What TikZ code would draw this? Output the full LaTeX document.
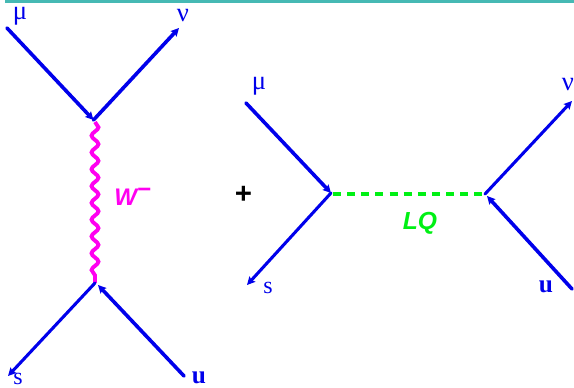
\documentclass[tikz,border=0pt]{standalone}
\usepackage{fontspec}
\setmainfont{Liberation Serif}
\setsansfont{Liberation Sans}
\usetikzlibrary{arrows.meta,decorations.pathmorphing,decorations.markings}
\definecolor{fermion}{RGB}{0,0,235}
\definecolor{wboson}{RGB}{255,0,240}
\definecolor{lq}{RGB}{0,240,20}
\definecolor{topbar}{RGB}{70,185,180}
\tikzset{
  x=0.75pt,y=-0.75pt,
  line/.style={draw=fermion,line width=2.7pt,line cap=round},
  thinline/.style={draw=fermion,line width=2.3pt,line cap=round},
  arr/.style={-{Stealth[length=6pt,width=6pt,inset=1pt,fill=fermion]}},
  lab/.style={text=fermion,inner sep=0pt,font=\fontsize{20}{20}\selectfont},
  slab/.style={text=fermion,inner sep=0pt,font=\fontsize{18}{18}\selectfont},
  blab/.style={text=fermion,inner sep=0pt,font=\fontsize{19}{19}\selectfont\bfseries},
  wavy/.style={draw=wboson,line width=2.9pt,decorate,decoration={snake,segment length=12.6pt,amplitude=2.6pt}},
  lqdash/.style={draw=lq,line width=2.3pt,dash pattern=on 6pt off 4.6pt}
}
\begin{document}
\begin{tikzpicture}
\useasboundingbox (0,0) rectangle (574,388);
\clip (0,0) rectangle (574,388);
\fill[topbar] (5,0) rectangle (574,3);
% left diagram
\coordinate (a1) at (7,28);
\coordinate (a2) at (93.5,120);
\coordinate (a3) at (179,28);
\coordinate (a4) at (95,122);
\coordinate (a5) at (95,283);
\coordinate (a6) at (8,376);
\coordinate (a7) at (184,376);
\coordinate (a8) at (98,285);
\draw[line,arr] (a1) -- (a2);
\draw[line,arr] (a2) -- (a3);
\draw[wavy] (a4) -- (a5);
\draw[thinline,arr] (a5) -- (a6);
\draw[line,arr] (a7) -- (a8);
\node[lab] (mu1) at (20,16) {μ};
\node[lab] (nu1) at (183,16) {ν};
\node[slab] (s1) at (18,379) {s};
\node[blab] (u1) at (199,378) {u};
\node[text=wboson,inner sep=0pt,font=\sffamily\bfseries\itshape\fontsize{18}{18}\selectfont] (w) at (133,197) {W$^{\textbf{−}}$};
\node[inner sep=0pt,font=\sffamily\bfseries\itshape\fontsize{22}{22}\selectfont] (plus) at (243,195) {+};
% right diagram
\coordinate (b1) at (246,103);
\coordinate (b2) at (331,193);
\coordinate (b3) at (247,285);
\coordinate (b4) at (333,194);
\coordinate (b5) at (485,194);
\coordinate (b6) at (572,101);
\coordinate (b7) at (572,289);
\coordinate (b8) at (487,196);
\draw[line,arr] (b1) -- (b2);
\draw[thinline,arr] (b2) -- (b3);
\draw[lqdash] (b4) -- (b5);
\draw[thinline,arr] (b5) -- (b6);
\draw[line,arr] (b7) -- (b8);
\node[lab] (mu2) at (259,86) {μ};
\node[lab] (nu2) at (568,85) {ν};
\node[slab] (s2) at (268,288) {s};
\node[blab] (u2) at (546,287) {u};
\node[text=lq,inner sep=0pt,font=\sffamily\bfseries\itshape\fontsize{18.5}{18.5}\selectfont] (lqlab) at (420,223) {LQ};
\end{tikzpicture}
\end{document}
